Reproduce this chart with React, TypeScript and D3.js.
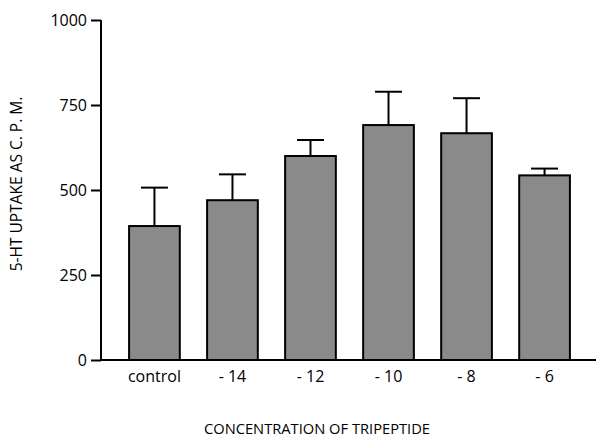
import React, { useEffect, useRef } from "react";
import * as d3 from "d3";

const categories: string[] = ["control", "- 14", "- 12", "- 10", "- 8", "- 6"];
const uptake: number[] = [394, 470, 600, 691, 667, 543];
const errorTop: number[] = [507, 546, 647, 789, 770, 563];
const yTicks: number[] = [0, 250, 500, 750, 1000];

const W = 596;
const H = 438;

export default function App() {
  const ref = useRef<SVGSVGElement>(null);

  useEffect(() => {
    const svg = d3.select(ref.current);
    svg.selectAll("*").remove();

    const font = "'Open Sans', 'DejaVu Sans', sans-serif";
    const x0 = 101;
    const yScale = d3.scaleLinear().domain([0, 1000]).range([360, 20]);
    const xScale = d3
      .scaleBand<string>()
      .domain(categories)
      .range([x0, 598])
      .paddingInner(0.35)
      .paddingOuter(0.36);

    const g = svg.append("g");

    // bars
    g.selectAll(".bar")
      .data(categories)
      .enter()
      .append("rect")
      .attr("class", "bar")
      .attr("x", (d) => xScale(d)!)
      .attr("y", (d, i) => yScale(uptake[i]))
      .attr("width", xScale.bandwidth())
      .attr("height", (d, i) => yScale(0) - yScale(uptake[i]))
      .style("fill", "#8a8a8a")
      .style("stroke", "#000")
      .style("stroke-width", 2);

    // error bars (upper only)
    const capHalf = 13.5;
    categories.forEach((c, i) => {
      const cx = xScale(c)! + xScale.bandwidth() / 2;
      g.append("line")
        .attr("x1", cx)
        .attr("x2", cx)
        .attr("y1", yScale(uptake[i]))
        .attr("y2", yScale(errorTop[i]))
        .style("stroke", "#000")
        .style("stroke-width", 2);
      g.append("line")
        .attr("x1", cx - capHalf)
        .attr("x2", cx + capHalf)
        .attr("y1", yScale(errorTop[i]))
        .attr("y2", yScale(errorTop[i]))
        .style("stroke", "#000")
        .style("stroke-width", 2);
    });

    // y axis
    const yAxis = g
      .append("g")
      .attr("transform", `translate(${x0},0)`)
      .call(
        d3
          .axisLeft(yScale)
          .tickValues(yTicks)
          .tickSize(10)
          .tickPadding(4)
          .tickFormat(d3.format("d"))
      );
    yAxis.select(".domain").attr("d", `M0,${yScale(1000)}V${yScale(0)}`).style("stroke-width", 2);
    yAxis.selectAll(".tick line").style("stroke-width", 2);
    yAxis.selectAll("text").style("font-family", font).style("font-size", "16px").style("fill", "#000");

    // x axis line
    g.append("line")
      .attr("x1", x0)
      .attr("x2", W)
      .attr("y1", yScale(0))
      .attr("y2", yScale(0))
      .style("stroke", "#000")
      .style("stroke-width", 2);

    // category labels
    g.selectAll(".xlab")
      .data(categories)
      .enter()
      .append("text")
      .attr("class", "xlab")
      .attr("x", (d) => xScale(d)! + xScale.bandwidth() / 2)
      .attr("y", 382)
      .attr("text-anchor", "middle")
      .style("font-family", font)
      .style("font-size", "16px")
      .text((d) => d);

    // axis titles
    svg
      .append("text")
      .attr("x", 317)
      .attr("y", 434)
      .attr("text-anchor", "middle")
      .style("font-family", font)
      .style("font-size", "14.7px")
      .text("CONCENTRATION OF TRIPEPTIDE");

    svg
      .append("text")
      .attr("transform", `translate(22,184) rotate(-90)`)
      .attr("text-anchor", "middle")
      .style("font-family", font)
      .style("font-size", "15.5px")
      .text("5-HT UPTAKE AS C. P. M.");
  }, []);

  return (
    <svg
      ref={ref}
      width={W}
      height={H}
      style={{ position: "absolute", left: 0, top: 0, background: "#fff" }}
    />
  );
}
